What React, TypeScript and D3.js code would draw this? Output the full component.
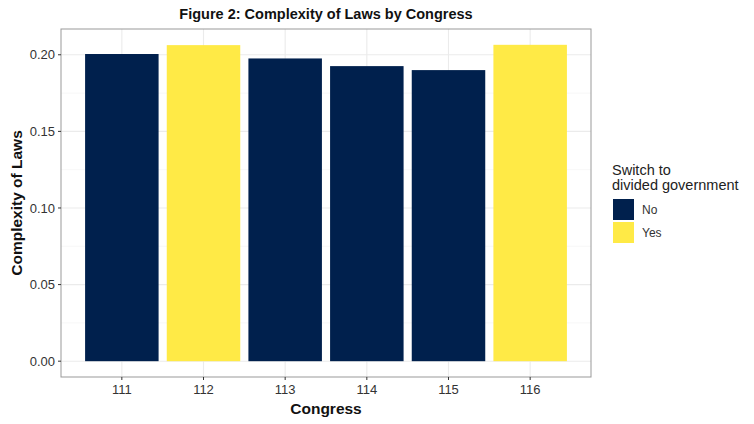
import React from "react";
import * as d3 from "d3";

const congresses = ["111", "112", "113", "114", "115", "116"];
const complexity = [0.2005, 0.2063, 0.1976, 0.1926, 0.1900, 0.2065];
const divided = ["No", "Yes", "No", "No", "No", "Yes"];
const yTicks = [0, 0.05, 0.1, 0.15, 0.2];
const legendLevels = ["No", "Yes"];

const W = 754, H = 424;
const left = 61, right = 591, top = 29, bottom = 377;
const font = "'Liberation Sans', Arial, sans-serif";

export default function App() {
  const ymax = d3.max(complexity)!;
  const y = d3.scaleLinear().domain([-ymax * 0.05, ymax * 1.05]).range([bottom, top]);
  const lo = 0.55 - 5.9 * 0.05, hi = 6.45 + 5.9 * 0.05;
  const x = d3.scaleLinear().domain([lo, hi]).range([left, right]);
  const color = d3.scaleOrdinal<string, string>().domain(legendLevels).range(["#00204D", "#FFEA46"]);
  const minor = d3.range(0.025, 0.21, 0.05);
  const bw = x(1.45) - x(0.55);

  return (
    <svg width={W} height={H} style={{ position: "absolute", left: 0, top: 0 }} fontFamily={font}>
      <rect width={W} height={H} fill="white" />
      <text x={(left + right) / 2} y={19} textAnchor="middle" fontSize={14.5} fontWeight="bold" fill="#111">
        Figure 2: Complexity of Laws by Congress
      </text>
      {minor.map((v) => (
        <line key={"mn" + v} x1={left} x2={right} y1={y(v)} y2={y(v)} stroke="#f2f2f2" strokeWidth={0.6} />
      ))}
      {yTicks.map((v) => (
        <line key={"mj" + v} x1={left} x2={right} y1={y(v)} y2={y(v)} stroke="#ebebeb" strokeWidth={1.1} />
      ))}
      {congresses.map((c, i) => (
        <line key={"vx" + c} x1={x(i + 1)} x2={x(i + 1)} y1={top} y2={bottom} stroke="#ebebeb" strokeWidth={1.1} />
      ))}
      {congresses.map((c, i) => (
        <rect
          key={"b" + c}
          x={x(i + 1) - bw / 2}
          y={y(complexity[i])}
          width={bw}
          height={y(0) - y(complexity[i])}
          fill={color(divided[i])}
        />
      ))}
      <rect x={left} y={top} width={right - left} height={bottom - top} fill="none" stroke="#999" strokeWidth={1} />
      {yTicks.map((v) => (
        <g key={"yt" + v}>
          <line x1={left - 3} x2={left} y1={y(v)} y2={y(v)} stroke="#333" />
          <text x={left - 6} y={y(v)} dy="0.35em" textAnchor="end" fontSize={13} fill="#333">
            {d3.format(".2f")(v)}
          </text>
        </g>
      ))}
      {congresses.map((c, i) => (
        <g key={"xt" + c}>
          <line x1={x(i + 1)} x2={x(i + 1)} y1={bottom} y2={bottom + 3} stroke="#333" />
          <text x={x(i + 1)} y={bottom + 17} textAnchor="middle" fontSize={13} fill="#333">
            {c}
          </text>
        </g>
      ))}
      <text x={(left + right) / 2} y={414} textAnchor="middle" fontSize={15.5} fontWeight="bold" fill="#111">
        Congress
      </text>
      <text
        transform={`translate(22, ${(top + bottom) / 2}) rotate(-90)`}
        textAnchor="middle"
        fontSize={15.5}
        fontWeight="bold"
        fill="#111"
      >
        Complexity of Laws
      </text>
      <text x={612} y={175} fontSize={14.5} fill="#222">Switch to</text>
      <text x={612} y={190} fontSize={14.5} fill="#222">divided government</text>
      {legendLevels.map((l, i) => (
        <g key={"lg" + l}>
          <rect x={613} y={199 + i * 23} width={21} height={21} fill={color(l)} />
          <text x={642} y={210 + i * 23} dy="0.35em" fontSize={12} fill="#333">
            {l}
          </text>
        </g>
      ))}
    </svg>
  );
}
